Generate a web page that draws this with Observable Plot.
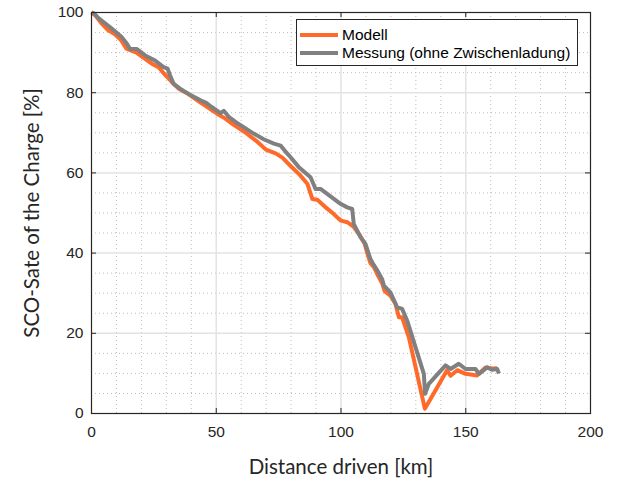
<!DOCTYPE html>
<html>
<head>
<meta charset="utf-8">
<script src="https://cdn.jsdelivr.net/npm/d3@7"></script>
<script src="https://cdn.jsdelivr.net/npm/@observablehq/plot@0.6"></script>
<style>
  body { margin: 0; background: #fff; }
  #wrap { position: relative; width: 619px; height: 478px; }
  #legend { position: absolute; left: 296px; top: 19px; width: 282px; height: 47px;
    border: 1px solid #262626; background: #fff; font: 15.5px "Liberation Sans", Arial, sans-serif; color: #000; box-sizing: border-box; }
  .row { position: absolute; left: 3px; height: 18px; display: flex; align-items: center; }
  .sw { width: 38px; height: 4px; margin-right: 4px; }
</style>
</head>
<body>
<div id="wrap"></div>
<script>
const seriesNames = ["Modell", "Messung (ohne Zwischenladung)"];
const seriesColors = ["#ff6a2a", "#808080"];

const modellKm = [0,1.5,4,6.5,9.5,12,14,16,18,20.5,24,27,29,32,35,39,44,47.5,50.5,53.5,57,61,66,70,74,76.5,80,83.5,86.5,88.5,90.5,93.5,97,99,100,102.5,105,107.5,109.5,110.5,111.8,113.2,114.5,116.5,117.5,119.8,121.8,123.2,124.5,127.2,133.6,137.9,142.5,143.9,146.6,149.9,154.6,157.9,160.6,162.6];
const modellSoc = [100,99.3,97.3,95.7,94.5,93,91,90.5,90,88.9,87.3,86.3,84.8,82.8,81,79.6,77.4,76,74.7,73.6,72,70.4,68,65.8,64.8,63.8,61.6,59.5,57.3,53.5,53.3,51.6,49.8,48.6,48.1,47.7,46.6,44.5,42.3,40,37.5,36.5,34.8,32.5,30.5,29.4,27.4,24,24,19,1.2,5.8,10.8,9.4,10.8,9.9,9.5,11.5,11.2,11.3];

const messungKm = [0,1,2.8,4.8,7.5,10,12.2,14.2,15.5,18.2,21.5,25.5,28.9,30.5,31.5,32.9,35.5,38.9,43.7,46,48,51.7,53,55,58,61,65,69,73.1,75.8,77.5,79.8,83,87.8,89.8,91.8,95,99.8,102.5,104.5,105.1,107.8,109.8,111.8,113.2,114.5,116.5,117.2,119.8,122.5,124.5,126.5,133.2,133.7,135.2,141.9,143.9,147.2,149.9,153.9,155.3,158.6,160.5,162.6,163.3];
const messungSoc = [100,99.8,98.6,97.6,96.3,95,93.8,92.2,90.9,90.9,89.3,88,86.4,86,84.3,82.2,81,79.7,78.1,77.5,76.5,74.9,75.5,74,72.6,71.4,69.8,68.4,67.3,66.8,65.5,63.9,61.5,58.9,56,56,54.5,52.3,51.4,51,47.3,44,42.3,38.5,37,35.7,33.5,31.9,30.2,26.5,26.1,23.2,9.9,4.9,7.4,12,11.1,12.4,11.1,11.1,9.9,11.5,10.9,11.1,10];

const xTicks = [0, 50, 100, 150, 200];
const yTicks = [0, 20, 40, 60, 80, 100];
const xLabel = "Distance driven [km]";
const yLabel = "SCO-Sate of the Charge [%]";

const modell = modellKm.map((x, i) => ({x, y: modellSoc[i]}));
const messung = messungKm.map((x, i) => ({x, y: messungSoc[i]}));

const xMinor = d3.range(10, 200, 10).filter(v => v % 50 !== 0);
const yMinor = d3.range(5, 100, 5).filter(v => v % 20 !== 0);
const xMajorInner = xTicks.slice(1, -1);
const yMajorInner = yTicks.slice(1, -1);

const tickFont = '"Liberation Sans", Arial, sans-serif';
const labelFont = 'Lato, "Open Sans", sans-serif';

const chart = Plot.plot({
  width: 619,
  height: 478,
  marginLeft: 91,
  marginRight: 29,
  marginTop: 12,
  marginBottom: 65,
  style: {fontFamily: tickFont, fontSize: "15.5px", color: "#262626", background: "#fff", overflow: "visible"},
  x: {domain: [0, 200]},
  y: {domain: [0, 100]},
  marks: [
    Plot.ruleX(xMinor, {stroke: "#bdbdbd", strokeDasharray: "1,3", strokeWidth: 1}),
    Plot.ruleY(yMinor, {stroke: "#bdbdbd", strokeDasharray: "1,3", strokeWidth: 1}),
    Plot.ruleX(xMajorInner, {stroke: "#e3e3e3", strokeWidth: 1.5}),
    Plot.ruleY(yMajorInner, {stroke: "#e3e3e3", strokeWidth: 1.5}),
    Plot.line(modell, {x: "x", y: "y", stroke: seriesColors[0], strokeWidth: 4, strokeLinejoin: "round", strokeLinecap: "butt"}),
    Plot.line(messung, {x: "x", y: "y", stroke: seriesColors[1], strokeWidth: 4, strokeLinejoin: "round", strokeLinecap: "butt"}),
    Plot.frame({stroke: "#262626", strokeWidth: 1.2}),
    Plot.ruleX(xTicks, {y1: 0, y2: 1.25, stroke: "#262626"}),
    Plot.ruleX(xTicks, {y1: 100, y2: 98.75, stroke: "#262626"}),
    Plot.ruleY(yTicks, {x1: 0, x2: 2, stroke: "#262626"}),
    Plot.ruleY(yTicks, {x1: 200, x2: 198, stroke: "#262626"}),
    Plot.axisX(xTicks, {tickSize: 0, tickPadding: 12, label: null, fontSize: 15.5, fill: "#262626"}),
    Plot.axisY(yTicks, {tickSize: 0, tickPadding: 8, label: null, fontSize: 15.5, fill: "#262626"}),
    Plot.text([xLabel], {frameAnchor: "bottom", dy: 54, text: d => d, fontFamily: labelFont, fontSize: 20.5, fill: "#262626", textAnchor: "middle", lineAnchor: "middle"}),
    Plot.text([yLabel], {frameAnchor: "left", dx: -59, rotate: -90, text: d => d, fontFamily: labelFont, fontSize: 20.5, fill: "#262626", textAnchor: "middle", lineAnchor: "middle"})
  ]
});

const wrap = document.getElementById("wrap");
wrap.appendChild(chart);

const legend = document.createElement("div");
legend.id = "legend";
seriesNames.forEach((name, i) => {
  const row = document.createElement("div");
  row.className = "row";
  row.style.top = (i === 0 ? 6 : 24) + "px";
  const sw = document.createElement("div");
  sw.className = "sw";
  sw.style.background = seriesColors[i];
  const t = document.createElement("span");
  t.textContent = name;
  row.appendChild(sw);
  row.appendChild(t);
  legend.appendChild(row);
});
wrap.appendChild(legend);
</script>
</body>
</html>
